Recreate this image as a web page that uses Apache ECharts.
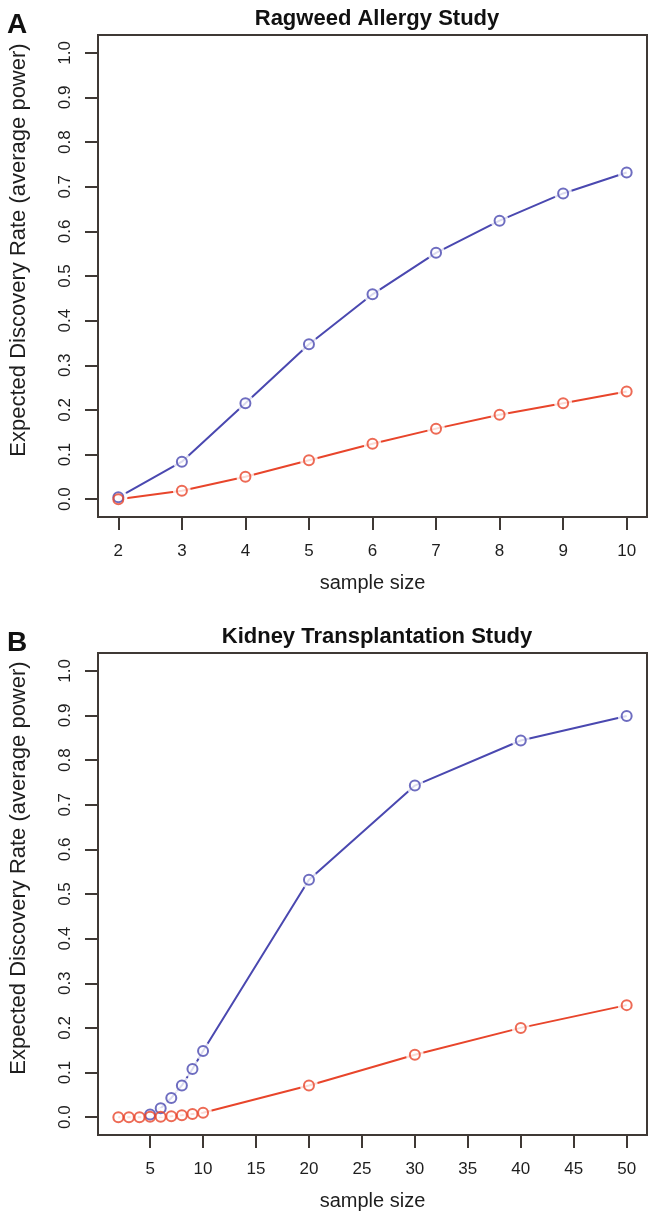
<!DOCTYPE html>
<html>
<head>
<meta charset="utf-8">
<script src="https://cdn.jsdelivr.net/npm/echarts@6/dist/echarts.min.js"></script>
<style>
html,body{margin:0;padding:0;background:#fff;}
#chart{width:651px;height:1216px;}
</style>
</head>
<body>
<div id="chart"></div>
<script>
// ---- data ----
const titleA = 'Ragweed Allergy Study';
const titleB = 'Kidney Transplantation Study';
const xName = 'sample size';
const yName = 'Expected Discovery Rate (average power)';

const sizeA = [2, 3, 4, 5, 6, 7, 8, 9, 10];
const ragweedBlue = [0.004, 0.084, 0.215, 0.347, 0.459, 0.552, 0.624, 0.685, 0.732];
const ragweedRed  = [0.0, 0.019, 0.050, 0.087, 0.124, 0.158, 0.189, 0.215, 0.241];

const sizeBBlue = [5, 6, 7, 8, 9, 10, 20, 30, 40, 50];
const kidneyBlue = [0.006, 0.020, 0.043, 0.071, 0.108, 0.148, 0.532, 0.743, 0.844, 0.899];
const sizeBRed = [2, 3, 4, 5, 6, 7, 8, 9, 10, 20, 30, 40, 50];
const kidneyRed = [0.0, 0.0, 0.0, 0.001, 0.001, 0.002, 0.004, 0.007, 0.010, 0.071, 0.140, 0.200, 0.251];

const xTicksA = [2, 3, 4, 5, 6, 7, 8, 9, 10];
const xTicksB = [5, 10, 15, 20, 25, 30, 35, 40, 45, 50];
const yTicks = [0, 0.1, 0.2, 0.3, 0.4, 0.5, 0.6, 0.7, 0.8, 0.9, 1.0];

// ---- style ----
const BLUE = '#4a48b0';
const RED = '#e8452b';
const BOX = '#3f3935';
const TXT = '#1e1e1e';
const FONT = '"Liberation Sans", Arial, sans-serif';

function pairs(xs, ys) { return xs.map((x, i) => [x, ys[i]]); }

function xAxisFor(gi, min, max, ticks) {
  return {
    type: 'value', gridIndex: gi, min: min, max: max,
    name: xName, nameLocation: 'middle', nameGap: 56,
    nameTextStyle: { fontSize: 20, color: TXT, fontFamily: FONT },
    axisLine: { show: false, onZero: false },
    splitLine: { show: false },
    axisTick: { show: true, length: 13, customValues: ticks, lineStyle: { color: BOX, width: 2 } },
    axisLabel: { customValues: ticks, margin: 26, fontSize: 17, color: TXT, fontFamily: FONT,
      formatter: v => String(Math.round(v)) }
  };
}
function yAxisFor(gi) {
  return {
    type: 'value', gridIndex: gi, min: -0.04, max: 1.04,
    name: yName, nameLocation: 'middle', nameGap: 68,
    nameTextStyle: { fontSize: 22, color: TXT, fontFamily: FONT, padding: [0, 0, 0, 52] },
    axisLine: { show: false, onZero: false },
    splitLine: { show: false },
    axisTick: { show: true, length: 13, customValues: yTicks, lineStyle: { color: BOX, width: 2 } },
    axisLabel: { customValues: yTicks, rotate: 90, margin: 24, fontSize: 17, color: TXT, fontFamily: FONT,
      formatter: v => v.toFixed(1) }
  };
}
function lineSeries(gi, data, color, z) {
  return { type: 'line', xAxisIndex: gi, yAxisIndex: gi, data: data, showSymbol: false,
    lineStyle: { color: color, width: 2 }, z: z, silent: true, animation: false };
}
function gapSeries(gi, data, z) {
  return { type: 'scatter', xAxisIndex: gi, yAxisIndex: gi, data: data, symbol: 'circle', symbolSize: 18,
    itemStyle: { color: '#ffffff' }, z: z, silent: true, animation: false };
}
function pointSeries(gi, data, color, z) {
  return { type: 'scatter', xAxisIndex: gi, yAxisIndex: gi, data: data, symbol: 'circle', symbolSize: 10,
    itemStyle: { color: 'rgba(0,0,0,0)', borderColor: color, borderWidth: 2 }, z: z, silent: true, animation: false };
}

const option = {
  backgroundColor: '#ffffff',
  animation: false,
  title: [
    { text: 'A', left: 2, top: 6, textStyle: { fontSize: 28, fontWeight: 'bold', color: '#111', fontFamily: FONT } },
    { text: titleA, left: 372, top: 3, textAlign: 'center', textStyle: { fontSize: 22, fontWeight: 'bold', color: '#111', fontFamily: FONT } },
    { text: 'B', left: 2, top: 624, textStyle: { fontSize: 28, fontWeight: 'bold', color: '#111', fontFamily: FONT } },
    { text: titleB, left: 372, top: 621, textAlign: 'center', textStyle: { fontSize: 22, fontWeight: 'bold', color: '#111', fontFamily: FONT } }
  ],
  grid: [
    { left: 96, right: 4, top: 35, bottom: 699, show: true, borderColor: BOX, borderWidth: 2, backgroundColor: '#fff' },
    { left: 96, right: 4, top: 653, bottom: 81, show: true, borderColor: BOX, borderWidth: 2, backgroundColor: '#fff' }
  ],
  xAxis: [ xAxisFor(0, 1.68, 10.32, xTicksA), xAxisFor(1, 0.08, 51.92, xTicksB) ],
  yAxis: [ yAxisFor(0), yAxisFor(1) ],
  series: [
    lineSeries(0, pairs(sizeA, ragweedBlue), BLUE, 2),
    lineSeries(0, pairs(sizeA, ragweedRed), RED, 3),
    gapSeries(0, pairs(sizeA, ragweedBlue), 4),
    gapSeries(0, pairs(sizeA, ragweedRed), 4),
    pointSeries(0, pairs(sizeA, ragweedBlue), BLUE, 5),
    pointSeries(0, pairs(sizeA, ragweedRed), RED, 6),

    lineSeries(1, pairs(sizeBBlue, kidneyBlue), BLUE, 2),
    lineSeries(1, pairs(sizeBRed, kidneyRed), RED, 3),
    gapSeries(1, pairs(sizeBBlue, kidneyBlue), 4),
    gapSeries(1, pairs(sizeBRed, kidneyRed), 4),
    pointSeries(1, pairs(sizeBBlue, kidneyBlue), BLUE, 5),
    pointSeries(1, pairs(sizeBRed, kidneyRed), RED, 6)
  ]
};

const chart = echarts.init(document.getElementById('chart'), null, { renderer: 'canvas' });
chart.setOption(option);
</script>
</body>
</html>
